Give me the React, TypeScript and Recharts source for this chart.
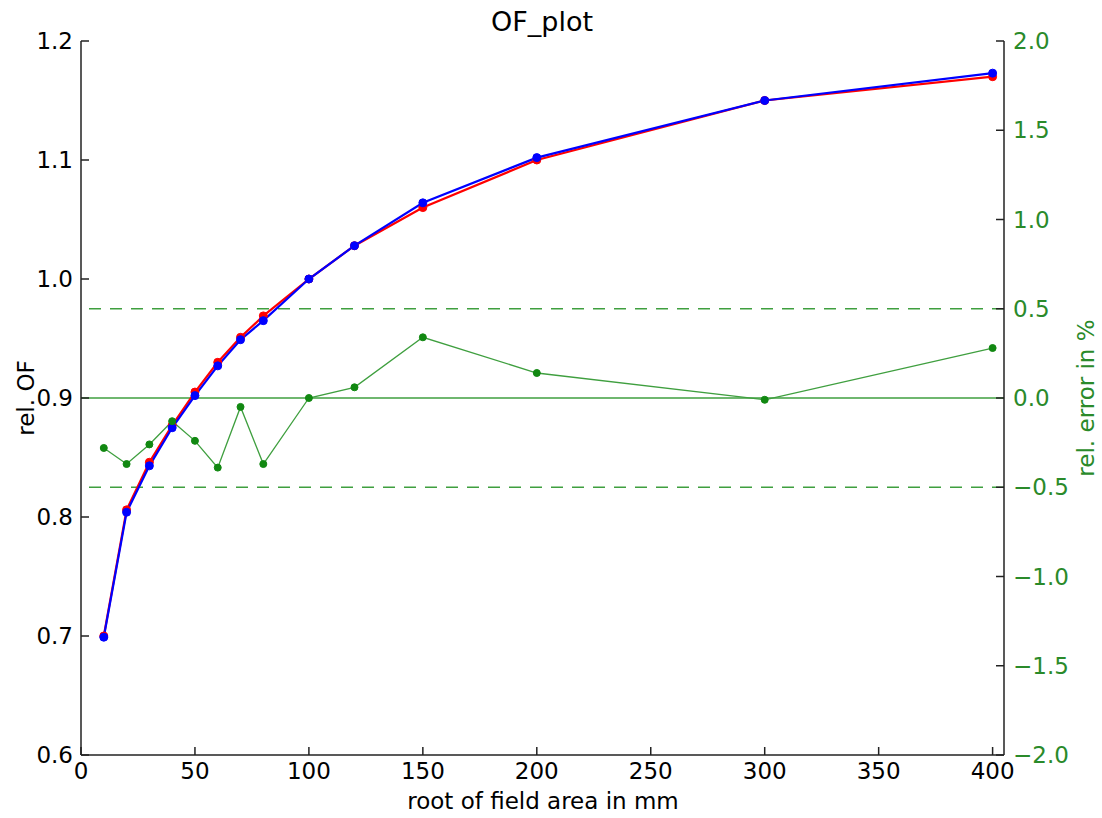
import {
  LineChart,
  Line,
  XAxis,
  YAxis,
  ReferenceLine,
} from 'recharts';

const fieldSizes = [10, 20, 30, 40, 50, 60, 70, 80, 100, 120, 150, 200, 300, 400];
const measuredOF = [0.700, 0.806, 0.846, 0.877, 0.905, 0.930, 0.951, 0.969, 1.000, 1.028, 1.060, 1.100, 1.150, 1.170];
const calculatedOF = [0.699, 0.804, 0.843, 0.875, 0.902, 0.927, 0.949, 0.965, 1.000, 1.028, 1.064, 1.102, 1.150, 1.173];
const relError = [-0.28, -0.37, -0.26, -0.13, -0.24, -0.39, -0.05, -0.37, 0.0, 0.06, 0.34, 0.14, -0.01, 0.28];

const xTicks = [0, 50, 100, 150, 200, 250, 300, 350, 400];
const ofTicks = [0.6, 0.7, 0.8, 0.9, 1.0, 1.1, 1.2];
const errTicks = [-2, -1.5, -1, -0.5, 0, 0.5, 1, 1.5, 2];
const errLimits = [-0.5, 0.5];

const FONT = '"DejaVu Sans", sans-serif';
const GREEN_TEXT = '#2a8a2a';
const GREEN_LINE = '#3f9f3f';
const AXIS = '#222';

const fmt = (v: number) => v.toFixed(1).replace('-', '\u2212');

export default function App() {
  const data = fieldSizes.map((x, i) => ({
    x,
    measured: measuredOF[i],
    calculated: calculatedOF[i],
    err: relError[i],
  }));

  const tickStyle = { fontSize: 23, fill: '#000', fontFamily: FONT };

  return (
    <div style={{ position: 'absolute', left: 0, top: 0, width: 1102, height: 818, background: '#fff', fontFamily: FONT }}>
      <div style={{ position: 'absolute', left: 542, top: 21, transform: 'translate(-50%, -50%)', fontSize: 27, whiteSpace: 'nowrap' }}>
        OF_plot
      </div>
      <div style={{ position: 'absolute', left: 543, top: 801, transform: 'translate(-50%, -50%)', fontSize: 23, whiteSpace: 'nowrap' }}>
        root of field area in mm
      </div>
      <div style={{ position: 'absolute', left: 26, top: 398, transform: 'translate(-50%, -50%) rotate(-90deg)', fontSize: 23, whiteSpace: 'nowrap' }}>
        rel. OF
      </div>
      <div style={{ position: 'absolute', left: 1086, top: 398, transform: 'translate(-50%, -50%) rotate(-90deg)', fontSize: 23, whiteSpace: 'nowrap', color: GREEN_TEXT }}>
        rel. error in %
      </div>

      <LineChart width={1102} height={818} data={data} margin={{ top: 41, right: 0, bottom: 0, left: 0 }}>
        <XAxis
          xAxisId="bottom"
          dataKey="x"
          type="number"
          domain={[0, 405]}
          ticks={xTicks}
          height={63}
          tick={tickStyle}
          tickSize={-8}
          tickMargin={16}
          stroke={AXIS}
          strokeWidth={1.5}
          interval={0}
        />
        <XAxis
          xAxisId="top"
          dataKey="x"
          type="number"
          orientation="top"
          domain={[0, 405]}
          ticks={xTicks}
          height={0}
          tickFormatter={() => ''}
          tickSize={-8}
          stroke={AXIS}
          strokeWidth={1.5}
          interval={0}
        />
        <YAxis
          yAxisId="of"
          type="number"
          domain={[0.6, 1.2]}
          ticks={ofTicks}
          width={81}
          tick={tickStyle}
          tickFormatter={fmt}
          tickSize={-8}
          tickMargin={16}
          stroke={AXIS}
          strokeWidth={1.5}
          interval={0}
        />
        <YAxis
          yAxisId="err"
          orientation="right"
          type="number"
          domain={[-2, 2]}
          ticks={errTicks}
          width={98}
          tick={{ ...tickStyle, fill: GREEN_TEXT }}
          tickFormatter={fmt}
          tickSize={-8}
          tickMargin={17}
          stroke={AXIS}
          strokeWidth={1.5}
          interval={0}
        />

        <ReferenceLine xAxisId="bottom" yAxisId="err" y={0} stroke={GREEN_LINE} strokeWidth={1.3} />
        {errLimits.map(v => (
          <ReferenceLine
            key={v}
            xAxisId="bottom"
            yAxisId="err"
            y={v}
            stroke={GREEN_LINE}
            strokeWidth={1.3}
            strokeDasharray="12 9"
          />
        ))}

        <Line
          xAxisId="bottom"
          yAxisId="of"
          dataKey="measured"
          stroke="#ff0000"
          strokeWidth={2.2}
          dot={{ r: 4, fill: '#ff0000', stroke: '#ff0000', strokeWidth: 1 }}
          isAnimationActive={false}
        />
        <Line
          xAxisId="bottom"
          yAxisId="of"
          dataKey="calculated"
          stroke="#0000ff"
          strokeWidth={2.2}
          dot={{ r: 4, fill: '#0000ff', stroke: '#0000ff', strokeWidth: 1 }}
          isAnimationActive={false}
        />
        <Line
          xAxisId="bottom"
          yAxisId="err"
          dataKey="err"
          stroke={GREEN_LINE}
          strokeWidth={1.3}
          dot={{ r: 3.5, fill: '#118811', stroke: '#118811', strokeWidth: 1 }}
          isAnimationActive={false}
        />
      </LineChart>
    </div>
  );
}
